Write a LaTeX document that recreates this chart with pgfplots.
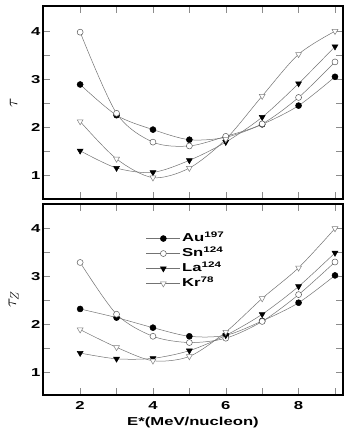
\documentclass[border=0pt]{standalone}
\usepackage{pgfplots}
\pgfplotsset{compat=1.18}
\usepackage{pgfplotstable}
\usepackage{fontspec}
\setmainfont{Liberation Sans}[FakeStretch=1.45]

% tau (upper panel)
\pgfplotstableread{
E Au Sn La Kr
2 2.90 3.99 1.52 2.13
3 2.26 2.30 1.16 1.35
4 1.96 1.70 1.07 0.96
5 1.75 1.62 1.32 1.16
6 1.80 1.82 1.70 1.76
7 2.07 2.08 2.22 2.66
8 2.46 2.63 2.92 3.53
9 3.06 3.37 3.69 4.01
}\tautable

% tau_Z (lower panel)
\pgfplotstableread{
E Au Sn La Kr
2 2.32 3.29 1.40 1.89
3 2.14 2.21 1.28 1.52
4 1.93 1.75 1.29 1.24
5 1.75 1.62 1.45 1.33
6 1.77 1.71 1.77 1.84
7 2.07 2.06 2.21 2.54
8 2.45 2.62 2.79 3.18
9 3.02 3.30 3.49 4.00
}\tauztable

\newcommand\lbl{\bfseries\fontsize{11.5}{13}\selectfont}

\pgfplotsset{
  panel/.style={
    width=300pt, scale only axis,
    xmin=0.98, xmax=9.22,
    axis line style={line width=1.3pt},
    tick style={black!45, line width=0.5pt},
    major tick length=7pt, minor tick length=7pt,
    tick align=inside, xtick pos=both, ytick pos=both,
    xtick={2,4,6,8}, minor xtick={3,5,7,9},
    ytick={1,2,3,4}, minor ytick={1.5,2.5,3.5},
    ticklabel style={font=\lbl},
    xticklabel style={yshift=-3pt},
    yticklabel style={xshift=1pt},
    /pgf/number format/assume math mode=true,
    ylabel style={at={(axis description cs:-0.098,0.5)}, anchor=center, font=\LARGE},
    xlabel style={font=\lbl, yshift=-1pt},
    every axis plot/.append style={black!55, line width=0.5pt, smooth},
  },
  sAu/.style={mark=*, mark size=3pt, mark options={fill=black, draw=black}},
  sSn/.style={mark=*, mark size=3pt, mark options={fill=white, draw=black!65}},
  sLa/.style={mark=triangle*, mark size=3.4pt, mark options={rotate=180, fill=black, draw=black}},
  sKr/.style={mark=triangle*, mark size=3.4pt, mark options={rotate=180, fill=white, draw=black!50}},
}

\begin{document}
\begin{tikzpicture}[font=\bfseries]
\useasboundingbox (-43pt,-41pt) rectangle (311pt,395pt);

% upper panel
\begin{axis}[panel, at={(0,196pt)}, anchor=south west, height=193pt,
  ymin=0.515, ymax=4.535, xticklabels={}, ylabel={$\tau$}]
\addplot[sAu] table[x=E,y=Au]{\tautable};
\addplot[sSn] table[x=E,y=Sn]{\tautable};
\addplot[sLa] table[x=E,y=La]{\tautable};
\addplot[sKr] table[x=E,y=Kr]{\tautable};
\end{axis}

% lower panel
\begin{axis}[panel, at={(0,0)}, anchor=south west, height=191pt,
  ymin=0.525, ymax=4.51, ylabel={$\tau_Z$},
  xlabel={E*(MeV/nucleon)},
  legend style={at={(axis description cs:0.333,0.87)}, anchor=north west,
    draw=none, fill=none, font=\lbl, row sep=0pt,
    nodes={inner sep=1.5pt, text height=9pt, text depth=3pt}},
  legend cell align=left,
  legend image code/.code={\draw[mark repeat=2,mark phase=2] plot coordinates {(0pt,0pt)(17pt,0pt)(34pt,0pt)};}]
\addplot[sAu] table[x=E,y=Au]{\tauztable};
\addlegendentry{Au\textsuperscript{197}}
\addplot[sSn] table[x=E,y=Sn]{\tauztable};
\addlegendentry{Sn\textsuperscript{124}}
\addplot[sLa] table[x=E,y=La]{\tauztable};
\addlegendentry{La\textsuperscript{124}}
\addplot[sKr] table[x=E,y=Kr]{\tauztable};
\addlegendentry{Kr\textsuperscript{78}}
\end{axis}
\end{tikzpicture}
\end{document}
